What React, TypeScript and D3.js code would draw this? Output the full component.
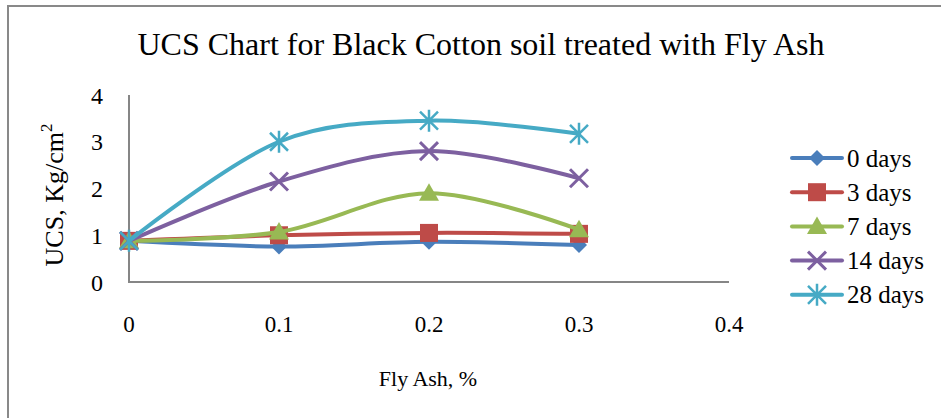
import React from "react";
import * as d3 from "d3";

const flyAsh = [0, 0.1, 0.2, 0.3];
const seriesNames = ["0 days", "3 days", "7 days", "14 days", "28 days"];
const days0 = [0.88, 0.76, 0.86, 0.79];
const days3 = [0.88, 1.0, 1.05, 1.03];
const days7 = [0.88, 1.07, 1.9, 1.12];
const days14 = [0.88, 2.15, 2.8, 2.22];
const days28 = [0.88, 3.0, 3.45, 3.17];
const xTicks = [0, 0.1, 0.2, 0.3, 0.4];
const yTicks = [0, 1, 2, 3, 4];
const colors = ["#4A7EBB", "#BE4B48", "#98B954", "#7D60A0", "#46AAC5"];
const markers = ["diamond", "square", "triangle", "x", "star"];

const allSeries = [days0, days3, days7, days14, days28];

function Marker({ type, x, y, color }: { type: string; x: number; y: number; color: string }) {
  if (type === "diamond") {
    const r = 8;
    return <path d={`M${x},${y - r}L${x + r},${y}L${x},${y + r}L${x - r},${y}Z`} fill={color} />;
  }
  if (type === "square") {
    const r = 9;
    return <rect x={x - r} y={y - r} width={2 * r} height={2 * r} fill={color} />;
  }
  if (type === "triangle") {
    const r = 10;
    return <path d={`M${x},${y - r}L${x + r},${y + r * 0.75}L${x - r},${y + r * 0.75}Z`} fill={color} />;
  }
  if (type === "x") {
    const r = 9;
    return (
      <path d={`M${x - r},${y - r}L${x + r},${y + r}M${x - r},${y + r}L${x + r},${y - r}`} stroke={color} strokeWidth={3} />
    );
  }
  const r = 9;
  return (
    <path
      d={`M${x - r},${y - r}L${x + r},${y + r}M${x - r},${y + r}L${x + r},${y - r}M${x},${y - r - 2}L${x},${y + r + 2}`}
      stroke={color}
      strokeWidth={2.5}
    />
  );
}

export default function App() {
  const W = 941;
  const H = 418;
  const x = d3.scaleLinear().domain([0, 0.4]).range([129, 729]);
  const y = d3.scaleLinear().domain([0, 4]).range([282, 95]);
  const line = d3
    .line<number>()
    .x((_, i) => x(flyAsh[i]))
    .y((d) => y(d))
    .curve(d3.curveCardinal.tension(0));
  const font = "'Liberation Serif', 'Times New Roman', serif";
  const legendY0 = 158;
  const legendStep = 34.2;
  return (
    <svg width={W} height={H} style={{ position: "absolute", left: 0, top: 0, background: "#fff" }} fontFamily={font}>
      <rect x={8} y={6} width={W + 20} height={H + 20} fill="none" stroke="#898989" strokeWidth={2} />
      <text x={481} y={55} textAnchor="middle" fontSize={32} fill="#000">
        UCS Chart for Black Cotton soil treated with Fly Ash
      </text>
      <line x1={129} y1={95} x2={129} y2={282} stroke="#868686" strokeWidth={2} />
      <line x1={128} y1={282} x2={729} y2={282} stroke="#868686" strokeWidth={2} />
      {yTicks.map((t) => (
        <text key={t} x={97} y={y(t) + 8.5} textAnchor="middle" fontSize={24}>
          {t}
        </text>
      ))}
      {xTicks.map((t) => (
        <text key={t} x={x(t)} y={332} textAnchor="middle" fontSize={23}>
          {t}
        </text>
      ))}
      <text x={428} y={386} textAnchor="middle" fontSize={22}>
        Fly Ash, %
      </text>
      <text transform="translate(63,195) rotate(-90)" textAnchor="middle" fontSize={26}>
        UCS, Kg/cm<tspan dy={-11} fontSize={17}>2</tspan>
      </text>
      {allSeries.map((s, si) => (
        <g key={si}>
          <path d={line(s) || ""} fill="none" stroke={colors[si]} strokeWidth={4} strokeLinecap="round" />
          {s.map((v, i) => (
            <Marker key={i} type={markers[si]} x={x(flyAsh[i])} y={y(v)} color={colors[si]} />
          ))}
        </g>
      ))}
      {seriesNames.map((n, i) => {
        const ly = legendY0 + i * legendStep;
        return (
          <g key={n}>
            <line x1={792} y1={ly} x2={842} y2={ly} stroke={colors[i]} strokeWidth={4} strokeLinecap="round" />
            <Marker type={markers[i]} x={817} y={ly} color={colors[i]} />
            <text x={847} y={ly + 8.5} fontSize={25}>
              {n}
            </text>
          </g>
        );
      })}
    </svg>
  );
}
